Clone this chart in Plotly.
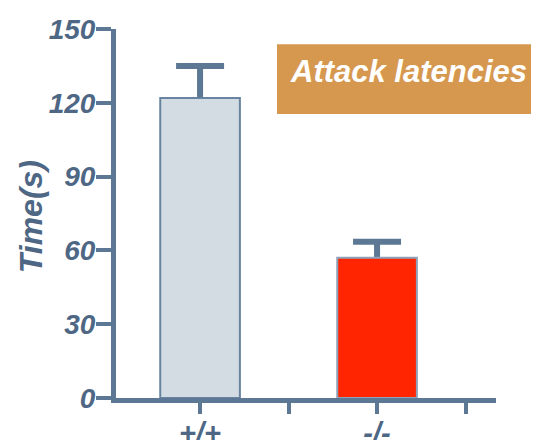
import plotly.graph_objects as go

categories = ["+/+", "-/-"]
means = [122, 57]
errors = [13, 6.5]
bar_colors = ["#d3dbe3", "#ff2500"]
bar_line_colors = ["#6884a0", "#8ea3ba"]
y_ticks = [0, 30, 60, 90, 120, 150]
x_positions = [0, 1]

AX = "#5d7894"
TXT = "#4e6784"
FONT = "Liberation Sans"

fig = go.Figure()

# error bars (lower half hidden behind the opaque bars drawn next)
fig.add_trace(go.Bar(
    x=x_positions, y=means, width=0.45,
    marker=dict(color="rgba(0,0,0,0)", line=dict(width=0)),
    error_y=dict(type="data", array=errors, symmetric=True,
                 color=AX, thickness=6, width=24),
    hoverinfo="skip", showlegend=False,
))
fig.add_trace(go.Bar(
    x=x_positions, y=means, width=0.45,
    marker=dict(color=bar_colors, line=dict(color=bar_line_colors, width=2)),
    showlegend=False,
))

# page body has an 8px margin, so the figure is 531x432 placed at (8, 8)
fig.update_layout(
    width=531, height=432,
    margin=dict(l=108, r=43, t=21, b=42),
    barmode="overlay",
    plot_bgcolor="white", paper_bgcolor="white",
    font=dict(family=FONT),
    xaxis=dict(
        range=[-0.475, 1.672], automargin=False,
        tickvals=[0, 0.5, 1, 1.5],
        ticktext=[categories[0], "", categories[1], ""],
        ticks="outside", ticklen=11, tickwidth=4, tickcolor=AX,
        showline=True, linecolor=AX, linewidth=5,
        showgrid=False, zeroline=False,
        tickfont=dict(size=29, color=TXT, weight="bold", style="italic"),
        ticklabelstandoff=-6,
    ),
    yaxis=dict(
        range=[0, 150], automargin=False,
        tickvals=y_ticks,
        ticks="outside", ticklen=15, tickwidth=4, tickcolor=AX,
        showline=True, linecolor=AX, linewidth=5,
        showgrid=False, zeroline=False,
        tickfont=dict(size=28, color=TXT, weight="bold", style="italic"),
        ticklabelstandoff=-5,
    ),
    shapes=[dict(type="rect", xref="paper", yref="paper",
                 x0=0.4237, x1=1.2, y0=0.7696, y1=0.959,
                 fillcolor="#d6984f", line=dict(width=0), layer="above")],
    annotations=[
        dict(text="Attack latencies", xref="paper", yref="paper",
             x=0.771, y=0.885, showarrow=False, xanchor="center", yanchor="middle",
             font=dict(size=31, color="white", weight="bold", style="italic")),
        dict(text="Time(s)", xref="paper", yref="paper",
             x=(23 - 108) / 380, y=0.49, textangle=-90, showarrow=False,
             xanchor="center", yanchor="middle",
             font=dict(size=32, color=TXT, weight="bold", style="italic")),
    ],
)

fig.write_html("out.html")
